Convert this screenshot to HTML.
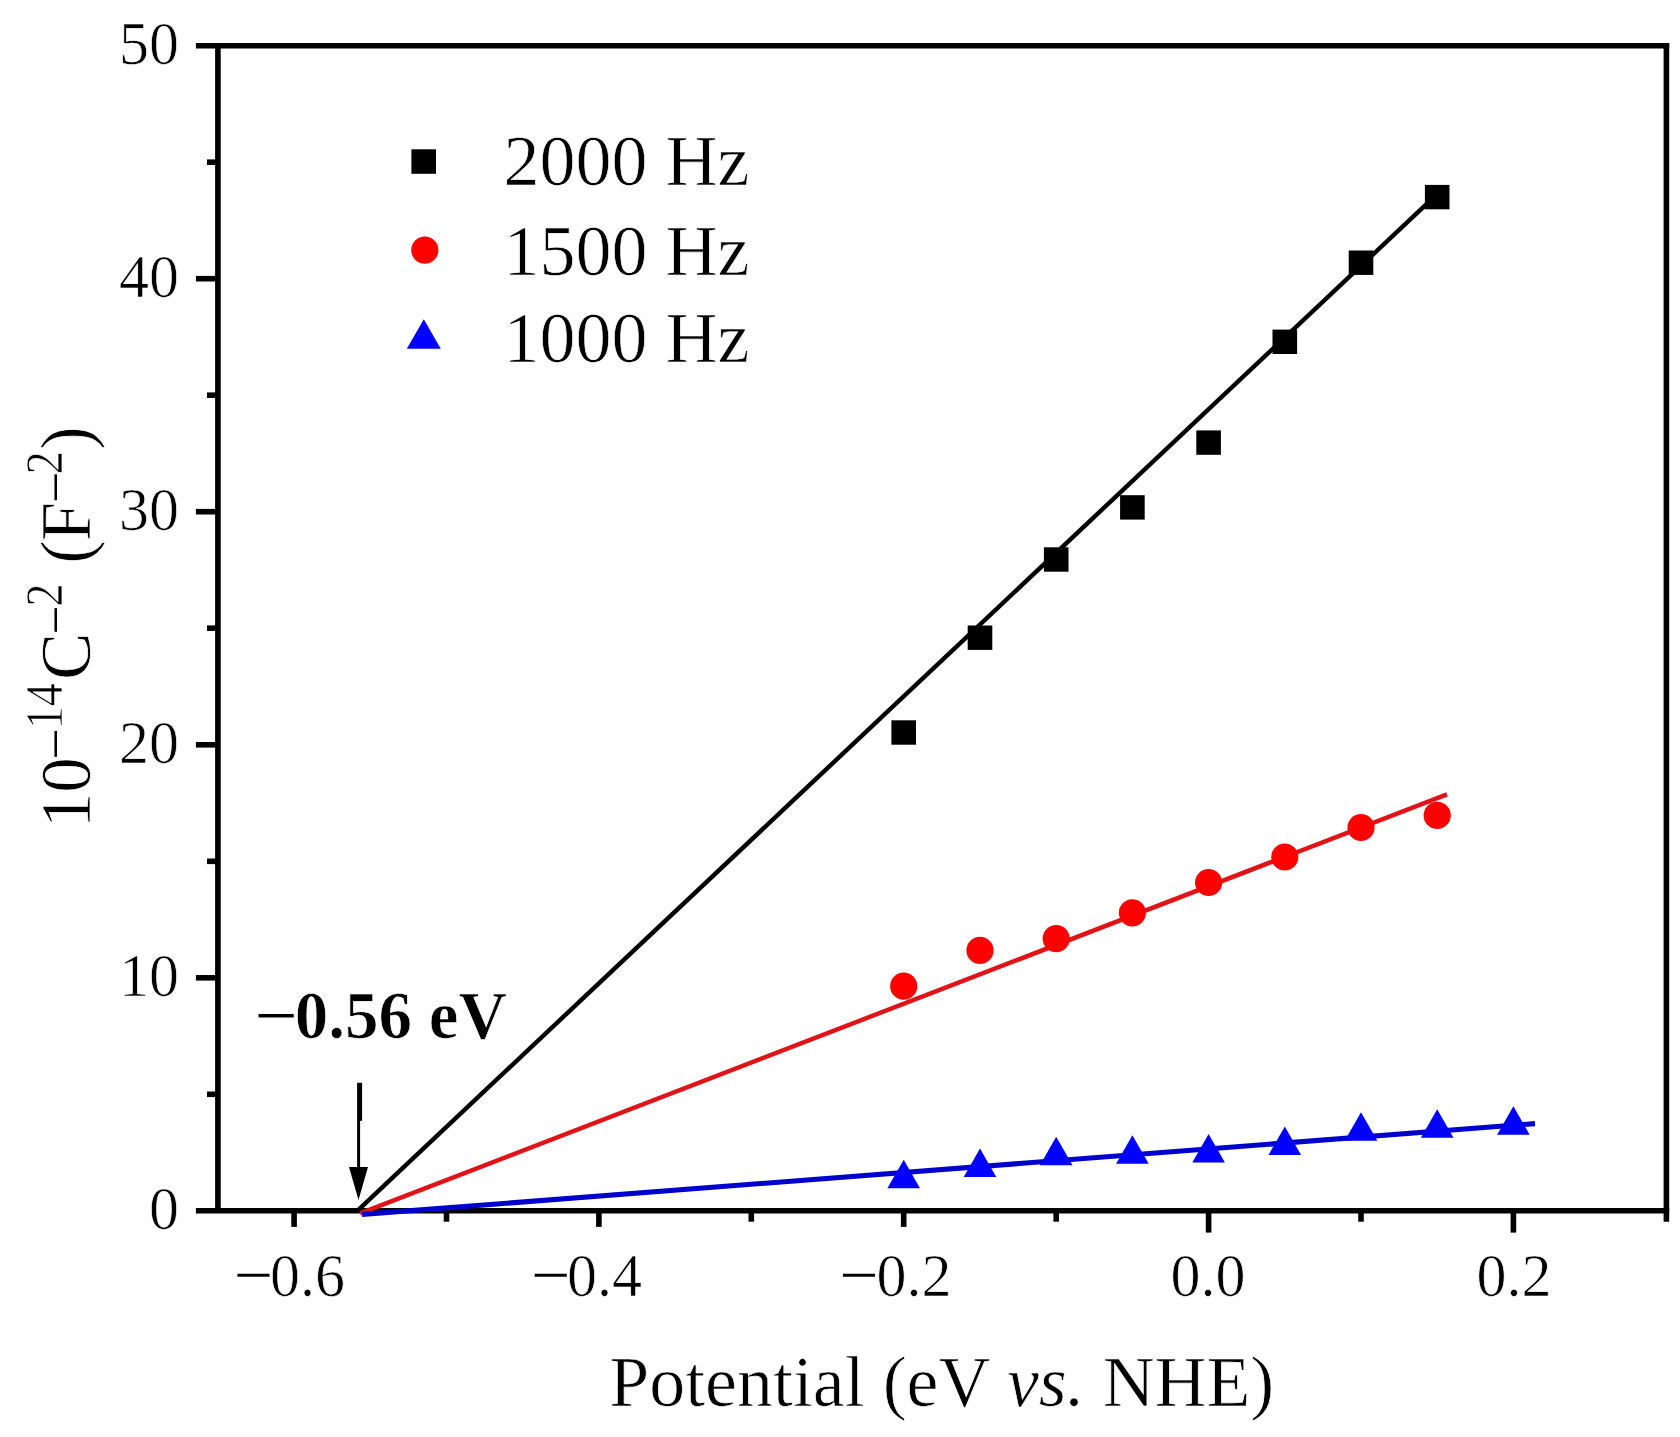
<!DOCTYPE html>
<html lang="en"><head><meta charset="utf-8"><title>Mott-Schottky plot</title>
<style>html,body{margin:0;padding:0;background:#fff;}body{width:1680px;height:1437px;overflow:hidden;}svg{display:block;}text{font-family:"Liberation Serif",serif;fill:#000;stroke:#fff;stroke-width:0.7px;}text.m{stroke:none;}</style></head><body>
<svg width="1680" height="1437" viewBox="0 0 1680 1437">
<rect width="1680" height="1437" fill="#fff"/>
<g stroke="#000" stroke-width="5.6" fill="none" stroke-linecap="butt">
<line x1="195.9" y1="45.7" x2="1669.2" y2="45.7"/>
<line x1="195.9" y1="1210.8" x2="1669.2" y2="1210.8"/>
<line x1="217.9" y1="45.7" x2="217.9" y2="1210.8"/>
<line x1="1666.4" y1="42.9" x2="1666.4" y2="1221.8"/>
<line x1="195.9" y1="977.8" x2="217.9" y2="977.8"/>
<line x1="195.9" y1="744.8" x2="217.9" y2="744.8"/>
<line x1="195.9" y1="511.7" x2="217.9" y2="511.7"/>
<line x1="195.9" y1="278.7" x2="217.9" y2="278.7"/>
<line x1="207" y1="1094.3" x2="217.9" y2="1094.3"/>
<line x1="207" y1="861.3" x2="217.9" y2="861.3"/>
<line x1="207" y1="628.2" x2="217.9" y2="628.2"/>
<line x1="207" y1="395.2" x2="217.9" y2="395.2"/>
<line x1="207" y1="162.2" x2="217.9" y2="162.2"/>
<line x1="294.1" y1="1210.8" x2="294.1" y2="1226.9"/>
<line x1="598.9" y1="1210.8" x2="598.9" y2="1226.9"/>
<line x1="903.7" y1="1210.8" x2="903.7" y2="1226.9"/>
<line x1="1208.6" y1="1210.8" x2="1208.6" y2="1232.6"/>
<line x1="1513.4" y1="1210.8" x2="1513.4" y2="1232.6"/>
<line x1="446.5" y1="1210.8" x2="446.5" y2="1221.7"/>
<line x1="751.3" y1="1210.8" x2="751.3" y2="1221.7"/>
<line x1="1056.2" y1="1210.8" x2="1056.2" y2="1221.7"/>
<line x1="1361.0" y1="1210.8" x2="1361.0" y2="1221.7"/>
</g>
<g fill="none" stroke-linecap="butt">
<line x1="357.3" y1="1210.8" x2="1440" y2="191.4" stroke="#000" stroke-width="4.4"/>
<line x1="360" y1="1213.4" x2="1447" y2="794.3" stroke="#e01418" stroke-width="4.5"/>
<line x1="362" y1="1214.4" x2="1535" y2="1123.6" stroke="#0000cc" stroke-width="5.1"/>
</g>
<g fill="#000">
<rect x="891.4" y="720.3" width="24.6" height="24.4"/>
<rect x="967.7" y="625.5" width="24.6" height="24.4"/>
<rect x="1043.9" y="547.3" width="24.6" height="24.4"/>
<rect x="1120.1" y="495.2" width="24.6" height="24.4"/>
<rect x="1196.3" y="430.4" width="24.6" height="24.4"/>
<rect x="1272.5" y="329.6" width="24.6" height="24.4"/>
<rect x="1348.7" y="250.5" width="24.6" height="24.4"/>
<rect x="1424.9" y="184.9" width="24.6" height="24.4"/>
</g>
<g fill="#ff0000">
<circle cx="903.7" cy="986.2" r="13.6"/>
<circle cx="980.0" cy="950.4" r="13.6"/>
<circle cx="1056.2" cy="938.6" r="13.6"/>
<circle cx="1132.4" cy="912.8" r="13.6"/>
<circle cx="1208.6" cy="882.5" r="13.6"/>
<circle cx="1284.8" cy="857.0" r="13.6"/>
<circle cx="1361.0" cy="827.5" r="13.6"/>
<circle cx="1437.2" cy="815.4" r="13.6"/>
</g>
<g fill="#0000ff">
<polygon points="903.7,1159.7 920.0,1188.2 887.4,1188.2"/>
<polygon points="980.0,1148.6 996.3,1177.1 963.7,1177.1"/>
<polygon points="1056.2,1136.8 1072.5,1165.3 1039.9,1165.3"/>
<polygon points="1132.4,1135.3 1148.7,1163.8 1116.1,1163.8"/>
<polygon points="1208.6,1134.0 1224.9,1162.5 1192.3,1162.5"/>
<polygon points="1284.8,1126.4 1301.1,1154.9 1268.5,1154.9"/>
<polygon points="1361.0,1112.3 1377.3,1140.8 1344.7,1140.8"/>
<polygon points="1437.2,1109.3 1453.5,1137.8 1420.9,1137.8"/>
<polygon points="1513.4,1106.3 1529.7,1134.8 1497.1,1134.8"/>
</g>
<rect x="411.4" y="149.3" width="24.6" height="24.5" fill="#000"/>
<circle cx="424.8" cy="250.2" r="13.6" fill="#ff0000"/>
<polygon points="423.8,319.2 440.8,348.7 406.8,348.7" fill="#0000ff"/>
<g font-size="71">
<text transform="translate(503.5,184.7) scale(1.014,1)">2000 Hz</text>
<text transform="translate(503.5,274.6) scale(1.014,1)">1500 Hz</text>
<text transform="translate(503.5,361.7) scale(1.014,1)">1000 Hz</text>
</g>
<g font-size="60" text-anchor="end">
<text transform="translate(179,1229.3) scale(1,1.02)">0</text>
<text transform="translate(179,996.3) scale(1,1.02)">10</text>
<text transform="translate(179,763.3) scale(1,1.02)">20</text>
<text transform="translate(179,530.2) scale(1,1.02)">30</text>
<text transform="translate(179,297.2) scale(1,1.02)">40</text>
<text transform="translate(179,64.2) scale(1,1.02)">50</text>
</g>
<g font-size="60">
<text transform="translate(270.0,1295.5) scale(1,1.02)">0.6</text>
<text transform="translate(567.0,1295.5) scale(1,1.02)">0.4</text>
<text transform="translate(876.4,1295.5) scale(1,1.02)">0.2</text>
<text transform="translate(1170.6,1295.5) scale(1,1.02)">0.0</text>
<text transform="translate(1476.4,1295.5) scale(1,1.02)">0.2</text>
<text class="m" transform="translate(234.0,1295) scale(1.15,1)">−</text>
<text class="m" transform="translate(531.2,1295) scale(1.15,1)">−</text>
<text class="m" transform="translate(839.4,1295) scale(1.15,1)">−</text>
</g>
<text transform="translate(609.3,1406) scale(1.012,1)" font-size="71">Potential (eV <tspan font-style="italic">vs.</tspan> NHE)</text>
<g transform="translate(89.6,820.4) rotate(-90)">
<text x="-7.75" y="0" font-size="71">10</text>
<text class="m" transform="translate(60.6,-16.7) scale(1.07,1)" font-size="52">−</text>
<text class="m" transform="translate(185.85,-16.7) scale(0.98,1)" font-size="52">−</text>
<text class="m" transform="translate(317.2,-16.7) scale(1.075,1)" font-size="52">−</text>
<text transform="translate(91.1,-28) scale(0.885,1)" font-size="52">14</text>
<text transform="translate(213.95,-28) scale(0.885,1)" font-size="52">2</text>
<text transform="translate(346.25,-28) scale(0.885,1)" font-size="52">2</text>
<text x="140.3" y="0" font-size="71">C</text>
<text x="256.7" y="0" font-size="71">(</text>
<text x="279.2" y="0" font-size="71">F</text>
<text x="370.35" y="0" font-size="71">)</text>
</g>
<text class="m" transform="translate(255,1037.6) scale(1.13,1)" font-size="67">−</text>
<text x="294.8" y="1037.6" font-size="67" font-weight="bold">0.56 eV</text>
<rect x="357.1" y="1082.8" width="5" height="38" fill="#000"/>
<rect x="357.1" y="1120" width="3" height="50" fill="#000"/>
<polygon points="358.5,1200 349,1167 368,1167" fill="#000"/>
</svg></body></html>
